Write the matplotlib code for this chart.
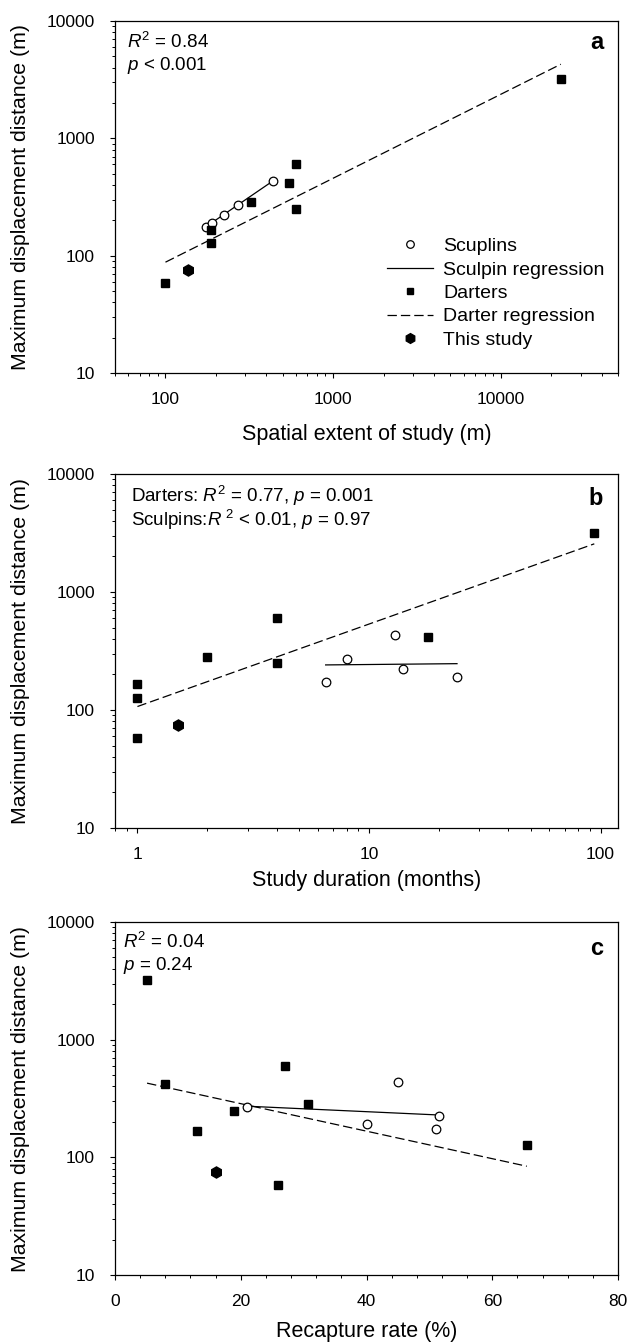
import numpy as np
import matplotlib
matplotlib.use("Agg")
import matplotlib.pyplot as plt
from matplotlib.ticker import LogLocator, NullFormatter, MultipleLocator

plt.rcParams['font.family'] = ['Liberation Sans', 'DejaVu Sans']
plt.rcParams['mathtext.fontset'] = 'custom'
plt.rcParams['mathtext.rm'] = 'Liberation Sans'
plt.rcParams['mathtext.it'] = 'Liberation Sans:italic'

# displacement (m) for each study, shared by all three panels
darter_disp = [58, 127, 166, 284, 418, 600, 250, 3190]
sculpin_disp = [174, 191, 223, 270, 435]
this_disp = [75]

# spatial extent (m)
darter_extent = [100, 187, 187, 324, 548, 602, 602, 22800]
sculpin_extent = [174, 190, 223, 270, 437]
this_extent = [136]

# study duration (months)
darter_duration = [1, 1, 1, 2, 18, 4, 4, 94]
sculpin_duration = [6.5, 24, 14, 8, 13]
this_duration = [1.5]

# recapture rate (%)
darter_recap = [26, 65.5, 13, 30.7, 8, 27, 19, 5.1]
sculpin_recap = [51.1, 40, 51.5, 21, 45]
this_recap = [16]

# regression line end points
darter_fit_a = ([100, 22800], [88, 4280])
sculpin_fit_a = ([174, 437], [176, 433])
darter_fit_b = ([1, 94], [107, 2560])
sculpin_fit_b = ([6.5, 24], [241, 247])
darter_fit_c = ([5.1, 65.5], [427, 84])
sculpin_fit_c = ([21, 51.5], [272, 229])

y_ticks = [10, 100, 1000, 10000]
y_ticklabels = ["10", "100", "1000", "10000"]

fig = plt.figure(figsize=(6.32, 13.44), dpi=100)
W, H = 632.0, 1344.0
left, right = 115, 618
tops = [21, 474, 922]
bottoms = [373, 828, 1275]

axes = []
for t, b in zip(tops, bottoms):
    ax = fig.add_axes([left / W, 1 - b / H, (right - left) / W, (b - t) / H])
    axes.append(ax)


def draw_panel(ax, dx, sx, tx, dfit, sfit):
    ax.plot(sfit[0], sfit[1], '-', color='black', lw=0.9, label='Sculpin regression')
    ax.plot(dfit[0], dfit[1], color='black', lw=0.9, dashes=(7.5, 3.2), label='Darter regression')
    ax.plot(sx, sculpin_disp, 'o', mfc='white', mec='black', mew=0.9, ms=6.2, label='Scuplins')
    ax.plot(dx, darter_disp, 's', color='black', ms=5.6, label='Darters')
    ax.plot(tx, this_disp, 'h', color='black', ms=8, label='This study')
    ax.set_yscale('log')
    ax.set_ylim(10, 10000)
    ax.set_yticks(y_ticks)
    ax.set_yticklabels(y_ticklabels)
    ax.yaxis.set_minor_locator(LogLocator(base=10, subs=np.arange(2, 10)))
    ax.yaxis.set_minor_formatter(NullFormatter())
    ax.set_ylabel('Maximum displacement distance (m)', fontsize=15.3)
    ax.yaxis.set_label_coords(-0.169, 0.5)
    ax.tick_params(which='major', direction='out', length=3.5, width=0.8, labelsize=12.5)
    ax.tick_params(axis='y', which='major', pad=11)
    ax.tick_params(axis='x', which='major', pad=10)
    ax.tick_params(which='minor', direction='out', length=2.2, width=0.7)
    for sp in ax.spines.values():
        sp.set_linewidth(0.9)


# panel a: spatial extent
ax = axes[0]
draw_panel(ax, darter_extent, sculpin_extent, this_extent, darter_fit_a, sculpin_fit_a)
ax.set_xscale('log')
ax.set_xlim(50, 50000)
ax.set_xticks([100, 1000, 10000])
ax.set_xticklabels(["100", "1000", "10000"])
ax.xaxis.set_minor_locator(LogLocator(base=10, subs=np.arange(2, 10)))
ax.xaxis.set_minor_formatter(NullFormatter())
ax.set_xlabel('Spatial extent of study (m)', fontsize=15.5)
ax.xaxis.set_label_coords(0.5, -0.145)
ax.text(0.023, 0.941, '$R^2$ = 0.84', transform=ax.transAxes, fontsize=13.5, va='center')
ax.text(0.023, 0.875, '$p$ < 0.001', transform=ax.transAxes, fontsize=13.5, va='center')
ax.text(0.958, 0.94, 'a', transform=ax.transAxes, fontsize=17, fontweight='bold',
        ha='center', va='center')
h, l = ax.get_legend_handles_labels()
order = [2, 0, 3, 1, 4]
ax.legend([h[i] for i in order], [l[i] for i in order], loc='upper left',
          bbox_to_anchor=(0.54, 0.385), frameon=False, fontsize=14, borderpad=0,
          handlelength=2.4, handletextpad=0.5, labelspacing=0.3, borderaxespad=0,
          markerscale=0.88)

# panel b: study duration
ax = axes[1]
draw_panel(ax, darter_duration, sculpin_duration, this_duration, darter_fit_b, sculpin_fit_b)
ax.set_xscale('log')
ax.set_xlim(0.8, 119)
ax.set_xticks([1, 10, 100])
ax.set_xticklabels(["1", "10", "100"])
ax.xaxis.set_minor_locator(LogLocator(base=10, subs=np.arange(2, 10)))
ax.xaxis.set_minor_formatter(NullFormatter())
ax.set_xlabel('Study duration (months)', fontsize=15.5)
ax.xaxis.set_label_coords(0.5, -0.118)
ax.text(0.031, 0.937, 'Darters: $R^2$ = 0.77, $p$ = 0.001', transform=ax.transAxes,
        fontsize=13.5, va='center')
ax.text(0.031, 0.871, 'Sculpins:$R^{\\ 2}$ < 0.01, $p$ = 0.97', transform=ax.transAxes,
        fontsize=13.5, va='center')
ax.text(0.955, 0.932, 'b', transform=ax.transAxes, fontsize=17, fontweight='bold',
        ha='center', va='center')

# panel c: recapture rate
ax = axes[2]
draw_panel(ax, darter_recap, sculpin_recap, this_recap, darter_fit_c, sculpin_fit_c)
ax.set_xlim(0, 80)
ax.xaxis.set_major_locator(MultipleLocator(20))
ax.xaxis.set_minor_locator(MultipleLocator(4))
ax.set_xlabel('Recapture rate (%)', fontsize=15.5)
ax.xaxis.set_label_coords(0.5, -0.13)
ax.text(0.016, 0.943, '$R^2$ = 0.04', transform=ax.transAxes, fontsize=13.5, va='center')
ax.text(0.016, 0.877, '$p$ = 0.24', transform=ax.transAxes, fontsize=13.5, va='center')
ax.text(0.957, 0.924, 'c', transform=ax.transAxes, fontsize=17, fontweight='bold',
        ha='center', va='center')

fig.savefig('out.png', dpi=100)
